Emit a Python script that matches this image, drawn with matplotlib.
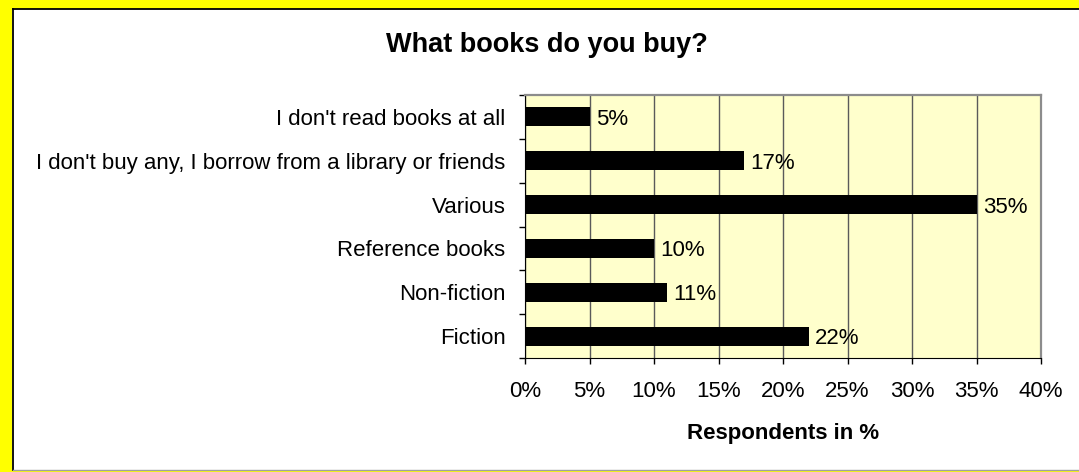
import matplotlib
matplotlib.use('Agg')
import matplotlib.pyplot as plt
from matplotlib.patches import Rectangle
from matplotlib.ticker import MultipleLocator, FixedLocator, FuncFormatter
import numpy as np

plt.rcParams['font.family'] = ['Liberation Sans', 'DejaVu Sans']

categories = ['Fiction', 'Non-fiction', 'Reference books', 'Various',
              "I don't buy any, I borrow from a library or friends",
              "I don't read books at all"]
values = [22, 11, 10, 35, 17, 5]
title = 'What books do you buy?'
xlabel = 'Respondents in %'

W, H = 1079, 472
fig = plt.figure(figsize=(W / 100, H / 100), dpi=100)
fig.patch.set_facecolor('#FFFF00')

# white chart area with black frame (left/top) like the excel export
fig.patches.append(Rectangle((12 / W, 2 / H), 1.0, (470 - 9) / H, transform=fig.transFigure,
                             facecolor='white', edgecolor='none', zorder=-5))
fig.add_artist(plt.Line2D([13 / W, 13 / W], [2.5 / H, (H - 9) / H], color='black', lw=1.3,
                          transform=fig.transFigure, zorder=-4))
fig.add_artist(plt.Line2D([13 / W, 1.0], [(H - 9) / H, (H - 9) / H], color='black', lw=1.3,
                          transform=fig.transFigure, zorder=-4))
fig.add_artist(plt.Line2D([13 / W, 1.0], [2.5 / H, 2.5 / H], color='#A0A0A0', lw=1.0,
                          transform=fig.transFigure, zorder=-4))

ax = fig.add_axes([525 / W, (H - 358) / H, (1041 - 525) / W, (358 - 95) / H])
ax.set_zorder(2)
ax.set_facecolor('#FFFFCC')

y = np.arange(len(categories))
ax.barh(y, values, height=0.43, color='black', zorder=3)
for yi, v in zip(y, values):
    ax.annotate('%d%%' % v, (v, yi), xytext=(4.5, 0), textcoords='offset points',
                va='center_baseline', ha='left', fontsize=16, zorder=4)

ax.set_xlim(0, 40)
ax.set_ylim(-0.5, len(categories) - 0.5)
ax.xaxis.set_major_locator(MultipleLocator(5))
ax.xaxis.set_major_formatter(FuncFormatter(lambda v, p: '%d%%' % v))
ax.grid(axis='x', color='#5a5a5a', lw=1.0, zorder=1)

ax.set_yticks(y)
ax.set_yticklabels(categories, fontsize=16)
ax.yaxis.set_minor_locator(FixedLocator(np.arange(-0.5, len(categories), 1.0)))
ax.tick_params(axis='y', which='major', length=0, pad=14)
ax.tick_params(axis='y', which='minor', length=4.5, width=1, direction='out')
ax.tick_params(axis='x', which='major', length=4.5, width=1, direction='out', labelsize=16, pad=12)

for s in ['left', 'bottom']:
    ax.spines[s].set_color('black')
for s in ['top', 'right']:
    ax.spines[s].set_color('#8c8c8c')
    ax.spines[s].set_linewidth(1.6)

fig.text(783 / W, (H - 439) / H, xlabel, ha='center', va='baseline', fontsize=16, fontweight='bold')
fig.text(547 / W, (H - 52) / H, title, ha='center', va='baseline', fontsize=19.5, fontweight='bold')

fig.savefig('out.png', dpi=100, facecolor=fig.get_facecolor())
